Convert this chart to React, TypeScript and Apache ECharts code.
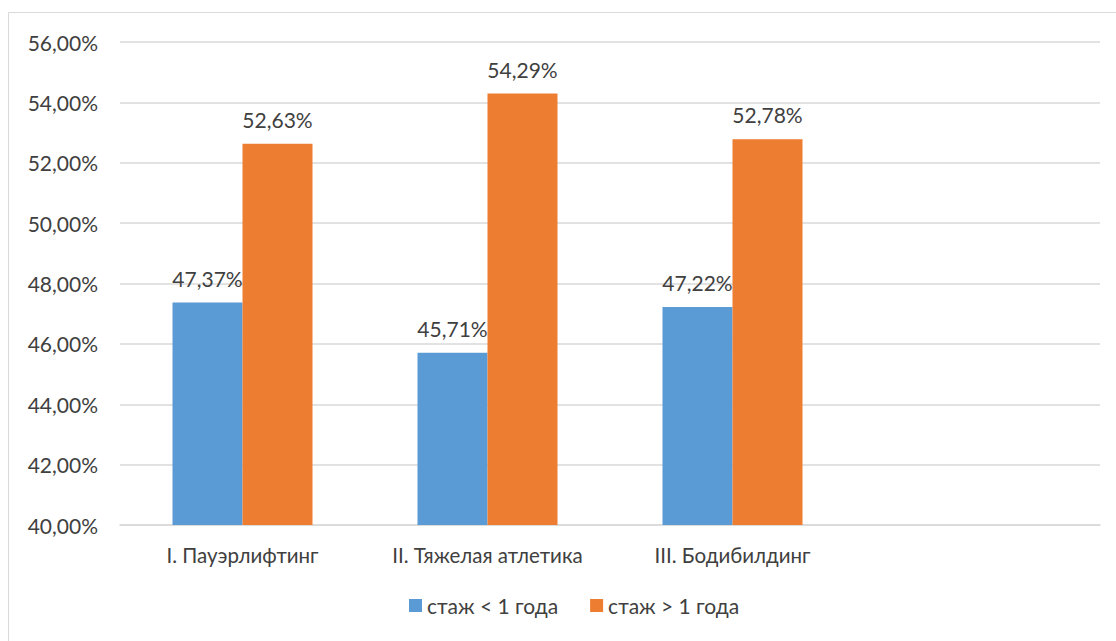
import React, { useEffect, useRef } from "react";
import * as echarts from "echarts";

const categories = ["I. Пауэрлифтинг", "II. Тяжелая атлетика", "III. Бодибилдинг", ""];
const seriesNames = ["стаж < 1 года", "стаж > 1 года"];
const lessThanYear = [47.37, 45.71, 47.22, null];
const moreThanYear = [52.63, 54.29, 52.78, null];
const colors = ["#5B9BD5", "#ED7D31"];

const fmt = (v: number) => v.toFixed(2).replace(".", ",") + "%";

export default function App() {
  const ref = useRef<HTMLDivElement>(null);
  useEffect(() => {
    const chart = echarts.init(ref.current!, null, { renderer: "svg" });
    const font = "Lato, 'Open Sans', sans-serif";
    const mk = (name: string, data: (number | null)[], color: string) => ({
      name,
      type: "bar",
      data,
      barWidth: 70,
      barGap: "0%",
      itemStyle: { color },
      label: {
        show: true,
        position: "top",
        distance: 14,
        color: "#404040",
        fontSize: 21,
        fontFamily: font,
        formatter: (p: any) => fmt(p.value),
      },
    });
    chart.setOption({
      animation: false,
      backgroundColor: "#fff",
      textStyle: { fontFamily: font },
      graphic: [
        {
          type: "rect",
          shape: { x: 8.5, y: 12.5, width: 1120, height: 640 },
          style: { fill: "none", stroke: "#D9D9D9", lineWidth: 1 },
          silent: true,
        },
      ],
      grid: { left: 120, right: 16, top: 42, bottom: 116, containLabel: false },
      legend: {
        bottom: 20,
        left: 404,
        itemWidth: 13,
        itemHeight: 13,
        itemGap: 32,
        icon: "rect",
        textStyle: { color: "#404040", fontSize: 21, fontFamily: font },
        data: seriesNames,
      },
      xAxis: {
        type: "category",
        data: categories,
        axisTick: { show: false },
        axisLine: { lineStyle: { color: "#D9D9D9", width: 1.5 } },
        axisLabel: { color: "#404040", fontSize: 20.5, fontFamily: font, margin: 19, interval: 0 },
      },
      yAxis: {
        type: "value",
        min: 40,
        max: 56,
        interval: 2,
        axisLine: { show: false },
        axisTick: { show: false },
        splitLine: { lineStyle: { color: "#D9D9D9", width: 1.5 } },
        axisLabel: { color: "#404040", fontSize: 21, fontFamily: font, margin: 22, formatter: (v: number) => fmt(v) },
      },
      series: [mk(seriesNames[0], lessThanYear, colors[0]), mk(seriesNames[1], moreThanYear, colors[1])],
    });
    return () => chart.dispose();
  }, []);
  return <div ref={ref} style={{ position: "fixed", left: 0, top: 0, width: 1116, height: 641 }} />;
}
